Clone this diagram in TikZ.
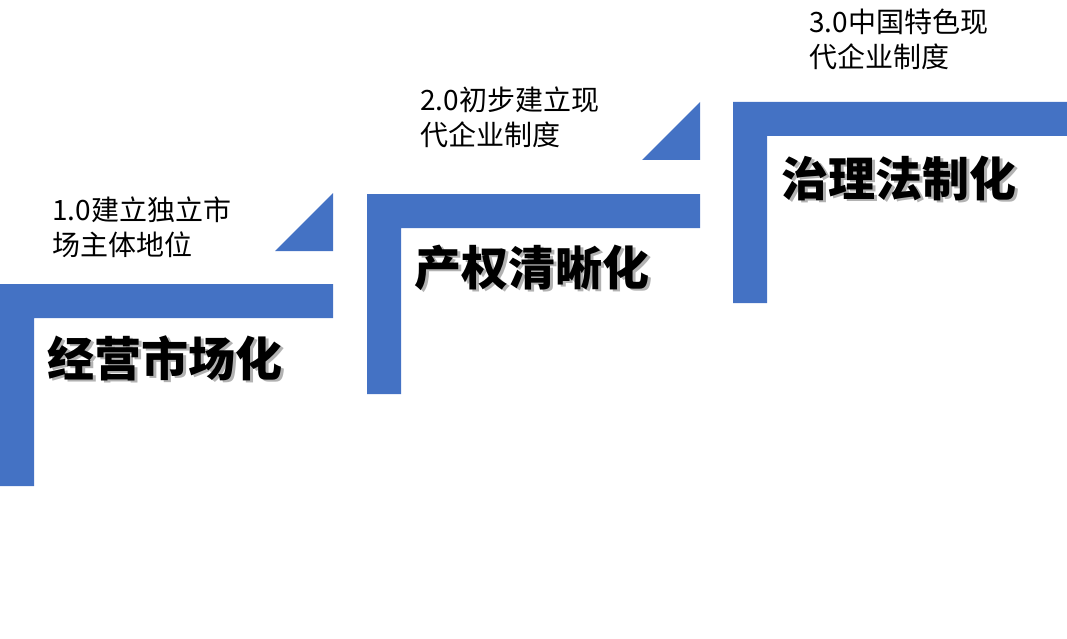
\documentclass[tikz,border=0pt]{standalone}
\usepackage{fontspec}
\newfontfamily\cjk{Noto Sans CJK SC}
\definecolor{bar}{HTML}{4472C4}
\tikzset{stepbar/.style={fill=bar,draw=none},
small/.style={font=\cjk\fontsize{28}{35}\selectfont,anchor=north west,align=left,inner sep=0pt},
big/.style={font=\cjk\bfseries\fontsize{47}{50}\selectfont,anchor=west,inner sep=0pt},
shadowtext/.style={big,text=black!30}}
\begin{document}
\begin{tikzpicture}[x=1pt,y=-1pt]
\useasboundingbox (0,0) rectangle (1067,639);
% step 1
\fill[stepbar] (0,284) -- (333,284) -- (333,318) -- (34,318) -- (34,486) -- (0,486) -- cycle;
\fill[stepbar] (275,251) -- (333,193) -- (333,251) -- cycle;
% step 2
\fill[stepbar] (367,194) -- (700,194) -- (700,228) -- (401,228) -- (401,394) -- (367,394) -- cycle;
\fill[stepbar] (642,160) -- (700,102) -- (700,160) -- cycle;
% step 3
\fill[stepbar] (733,102) -- (1067,102) -- (1067,136) -- (767,136) -- (767,303) -- (733,303) -- cycle;
% titles with shadow
\node[shadowtext] at (50,360) {经营市场化};
\node[big] (t1) at (47,358) {经营市场化};
\node[shadowtext] at (417,270) {产权清晰化};
\node[big] (t2) at (414,268) {产权清晰化};
\node[shadowtext] at (784,180) {治理法制化};
\node[big] (t3) at (781,178) {治理法制化};
% small labels
\node[small] (l1) at (52,197) {1.0建立独立市\\场主体地位};
\node[small] (l2) at (420,87) {2.0初步建立现\\代企业制度};
\node[small] (l3) at (809,9) {3.0中国特色现\\代企业制度};
\end{tikzpicture}
\end{document}
